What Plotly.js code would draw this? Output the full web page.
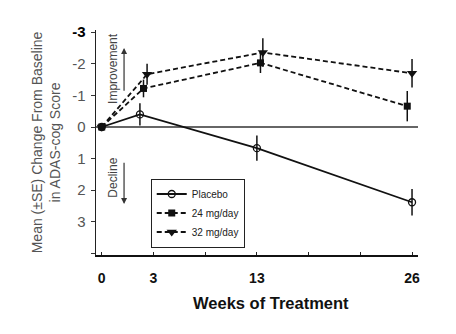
<!DOCTYPE html>
<html>
<head>
<meta charset="utf-8">
<script src="https://cdn.plot.ly/plotly-3.0.1.min.js"></script>
<style>html,body{margin:0;padding:0;background:#fff;}#chart{width:456px;height:334px;}</style>
</head>
<body>
<div id="chart"></div>
<script>
// Data
var seriesNames = ["Placebo", "24 mg/day", "32 mg/day"];
var weeksPlacebo = [0, 3.2, 13.0, 26.0];
var weeks24 = [0, 3.5, 13.3, 25.6];
var weeks32 = [0, 3.8, 13.5, 26.0];
var changePlacebo = [0, -0.40, 0.67, 2.38];
var change24 = [0, -1.22, -2.03, -0.66];
var change32 = [0, -1.67, -2.36, -1.70];
var sePlacebo = [0, 0.35, 0.40, 0.42];
var se24 = [0, 0.28, 0.32, 0.48];
var se32 = [0, 0.33, 0.45, 0.45];
var xTickVals = [0, 26/6, 52/6, 13, 104/6, 130/6, 26];
var xTickText = ["0", "3", "", "13", "", "", "26"];
var yTickVals = [-3, -2, -1, 0, 1, 2, 3, 4];
var yTickText = ["<b><span style='color:#000'>-3</span></b>", "-2", "-1", "0", "1", "2", "3", ""];

var F = "Liberation Sans, Arial, sans-serif";
function errs(a){ return {type:'data', array:a, visible:true, width:0, thickness:1.5, color:'#111'}; }

var traces = [
  {x: weeksPlacebo, y: changePlacebo, name: seriesNames[0], mode:'lines+markers',
   line:{color:'#111', width:1.8}, marker:{symbol:'circle-open', size:7, color:'#111', line:{width:1.3}},
   error_y: errs(sePlacebo)},
  {x: weeks24, y: change24, name: seriesNames[1], mode:'lines+markers',
   line:{color:'#111', width:1.8, dash:'5px,3px'}, marker:{symbol:'square', size:7, color:'#111'},
   error_y: errs(se24)},
  {x: weeks32, y: change32, name: seriesNames[2], mode:'lines+markers',
   line:{color:'#111', width:1.8, dash:'5px,3px'}, marker:{symbol:'triangle-down', size:9, color:'#111'},
   error_y: errs(se32)}
];

var layout = {
  width:456, height:334,
  margin:{l:96, r:38, t:30, b:79},
  paper_bgcolor:'#fff', plot_bgcolor:'#fff',
  font:{family:F, color:'#111'},
  showlegend:true,
  legend:{x:0.17, y:0.34, xanchor:'left', yanchor:'top', bordercolor:'#222', borderwidth:1,
          bgcolor:'#fff', font:{size:10, family:F, color:'#222'}, tracegroupgap:0},
  xaxis:{range:[-0.48, 26.5], tickmode:'array', tickvals:xTickVals, ticktext:xTickText,
         ticks:'inside', ticklen:3, tickcolor:'#222', showgrid:false, zeroline:false,
         showline:true, linecolor:'#111', linewidth:2, ticklabelstandoff:9,
         tickfont:{size:14, family:F, color:'#111', weight:'bold'}},
  yaxis:{range:[4.05, -3.07], tickmode:'array', tickvals:yTickVals, ticktext:yTickText,
         ticks:'outside', ticklen:4, tickcolor:'#333', showgrid:false,
         zeroline:true, zerolinecolor:'#666', zerolinewidth:1.5,
         showline:true, linecolor:'#222', linewidth:1.5, ticklabelstandoff:2,
         tickfont:{size:15, family:F, color:'#555'},
         title:{text:'Mean (±SE) Change From Baseline<br>in ADAS-cog Score', font:{size:14, family:F, color:'#555'}, standoff:8}},
  annotations:[
    {x:0.545, y:-0.212, xref:'paper', yref:'paper', text:'<b>Weeks of Treatment</b>', showarrow:false,
     xanchor:'center', yanchor:'middle', font:{size:16.5, family:F, color:'#111'}},
    {x:0.95, y:-1.84, xref:'x', yref:'y', text:'Improvement', textangle:-90, showarrow:false,
     font:{size:12, family:F, color:'#444'}},
    {x:0.95, y:1.6, xref:'x', yref:'y', text:'Decline', textangle:-90, showarrow:false,
     font:{size:12, family:F, color:'#444'}},
    {x:1.87, y:-2.5, ax:1.87, ay:-1.1, xref:'x', yref:'y', axref:'x', ayref:'y', text:'',
     showarrow:true, arrowhead:2, arrowsize:1, arrowwidth:1.2, arrowcolor:'#333'},
    {x:1.87, y:2.44, ax:1.87, ay:1.08, xref:'x', yref:'y', axref:'x', ayref:'y', text:'',
     showarrow:true, arrowhead:2, arrowsize:1, arrowwidth:1.2, arrowcolor:'#333'}
  ]
};

Plotly.newPlot('chart', traces, layout, {displayModeBar:false, staticPlot:true});
</script>
</body>
</html>
